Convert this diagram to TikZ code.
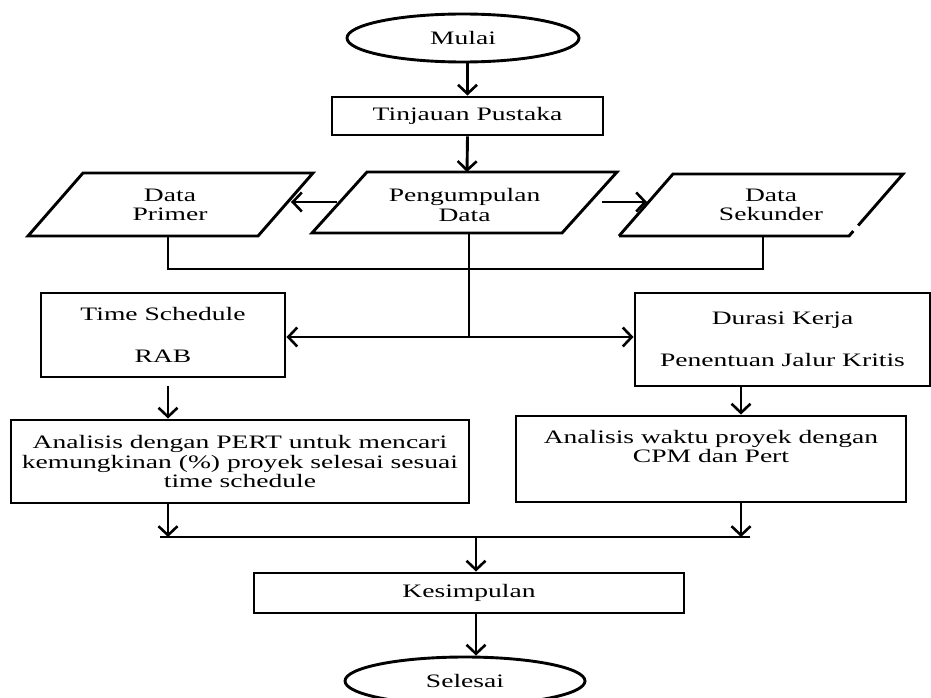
\documentclass[tikz,border=0pt]{standalone}
\usepackage{fontspec}
\setmainfont[FakeStretch=1.45]{Liberation Serif}
\usetikzlibrary{arrows.meta,shapes.geometric,calc}
\begin{document}
\begin{tikzpicture}[x=1pt,y=1pt,
  line width=2.9pt,
  every node/.style={font=\fontsize{19}{19.5}\selectfont},
  boxst/.style={draw, rectangle, inner sep=0pt, align=center},
  ovalst/.style={draw, ellipse, inner sep=0pt},
  txt/.style={align=center, inner sep=0pt},
  arr/.style={-{Straight Barb[length=9pt,width=19pt,line width=2.6pt]}}
]
\useasboundingbox (0,0) rectangle (931,-698);

% nodes
\node[ovalst, minimum width=232pt, minimum height=48pt] (mulai) at (463,-38) {Mulai};
\node[boxst, minimum width=271pt, minimum height=38pt] (tp) at (467.5,-116) {Tinjauan Pustaka};

% Pengumpulan Data
\draw (312,-233) -- (562,-233) -- (617,-172) -- (367,-172) -- cycle;
\node[txt] (pd) at (464.5,-205) {Pengumpulan\\Data};
\coordinate (pdtop) at (467,-172);
\coordinate (pdL) at (337,-202);
\coordinate (pdR) at (602,-202);
\coordinate (pdB) at (469,-233);

% Data Primer
\draw (28,-236) -- (258,-236) -- (313,-173) -- (83,-173) -- cycle;
\node[txt] (dp) at (170,-205) {Data\\Primer};
\coordinate (dpR) at (291,-202);
\coordinate (dpB) at (168,-236);

% Data Sekunder (right edge broken)
\draw (619,-236) -- (673,-174) -- (903,-174) -- ($(903,-174)!0.83!(849,-236)$);
\draw ($(903,-174)!0.92!(849,-236)$) -- (849,-236) -- (619,-236);
\node[txt] (ds) at (771,-205) {Data\\Sekunder};
\coordinate (dsL) at (647,-202);
\coordinate (dsB) at (763,-236);

\node[boxst, minimum width=244pt, minimum height=84pt] (ts) at (163,-335) {Time Schedule\\[22pt]RAB};
\node[boxst, minimum width=295pt, minimum height=93pt] (dk) at (782.5,-339.5) {Durasi Kerja\\[22pt]Penentuan Jalur Kritis};

\node[boxst, minimum width=458pt, minimum height=83pt] (pert) at (240,-461.5)
  {Analisis dengan PERT untuk mencari\\kemungkinan (\%) proyek selesai sesuai\\time schedule};
\node[boxst, minimum width=390pt, minimum height=86pt] (wk) at (711,-459)
  {Analisis waktu proyek dengan\\CPM dan Pert\\\strut};

\node[boxst, minimum width=430pt, minimum height=40pt] (ks) at (469,-593) {Kesimpulan};
\node[ovalst, minimum width=240pt, minimum height=48pt] (sl) at (465,-681) {Selesai};

% connectors
\draw[arr] (tp.north |- mulai.south) -- (tp.north);
\draw[arr] (tp.south) -- (pdtop);
\draw[arr] (pdL) -- (dpR);
\draw[arr] (pdR) -- (dsL);

\coordinate (colL) at (168,-269);
\coordinate (colR) at (763,-269);
\draw (dpB) -- (colL) -- (colR) -- (dsB);

\coordinate (jn) at (469,-337);
\draw (pdB) -- (jn);
\draw[arr] (jn) -- (jn -| ts.east);
\draw[arr] (jn) -- (jn -| dk.west);

\coordinate (a1) at (168,-386);
\coordinate (a2) at (741,-386);
\draw[arr] (a1) -- (a1 |- pert.north);
\draw[arr] (a2) -- (a2 |- wk.north);

\coordinate (hl) at (160,-537);
\coordinate (hr) at (750,-537);
\coordinate (hm) at (476,-537);
\coordinate (b1) at (168,-503);
\coordinate (b2) at (741,-502);
\draw (hl) -- (hr);
\draw[arr] (b1) -- (b1 |- hl);
\draw[arr] (b2) -- (b2 |- hl);
\draw[arr] (hm) -- (hm |- ks.north);
\draw[arr] (hm |- ks.south) -- (hm |- sl.north);
\end{tikzpicture}
\end{document}
